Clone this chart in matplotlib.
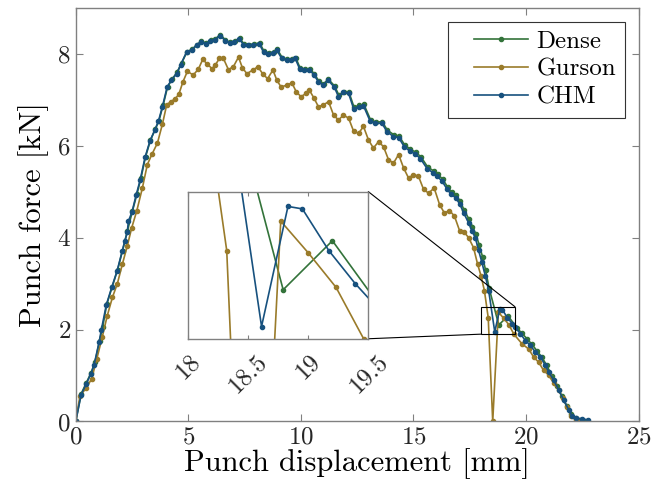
import matplotlib
matplotlib.use('Agg')
import matplotlib.pyplot as plt
from matplotlib.patches import Rectangle
from matplotlib.legend_handler import HandlerLine2D

plt.rcParams['font.family'] = ['cmr10', 'DejaVu Serif']
plt.rcParams['axes.formatter.use_mathtext'] = True

# Punch displacement [mm], punch force [kN]
dense_x = [0, 0.24, 0.46, 0.68, 0.86, 1.06, 1.2, 1.38, 1.62, 1.86, 2.08, 2.3, 2.52, 2.72,
           2.9, 3.1, 3.32, 3.54, 3.7, 3.88, 4.08, 4.28, 4.5, 4.7, 4.95, 5.17, 5.38, 5.57,
           5.8, 5.99, 6.2, 6.43, 6.65, 6.85, 7.06, 7.28, 7.47, 7.69, 7.91, 8.17, 8.36,
           8.58, 8.8, 8.95, 9.17, 9.4, 9.59, 9.77, 9.96, 10.17, 10.39, 10.59, 10.8, 11.02,
           11.22, 11.5, 11.69, 11.91, 12.14, 12.36, 12.58, 12.8, 13.1, 13.32, 13.62, 13.84,
           14.13, 14.36, 14.61, 14.85, 15.1, 15.33, 15.63, 15.9, 16.07, 16.29, 16.52, 16.7,
           16.89, 17.07, 17.25, 17.47, 17.62, 17.77, 17.92, 18.07, 18.2, 18.36, 18.79, 19.2,
           19.6, 19.82, 20.04, 20.26, 20.48, 20.7, 20.92, 21.14, 21.36, 21.58, 21.8, 22.0,
           22.2, 22.45, 22.7]
dense_y = [0, 0.60, 0.83, 1.06, 1.30, 1.76, 2.06, 2.55, 2.93, 3.30, 3.72, 4.15, 4.58, 4.95,
           5.30, 5.76, 6.12, 6.37, 6.55, 6.88, 7.28, 7.45, 7.60, 7.80, 8.05, 8.10, 8.20, 8.27,
           8.24, 8.30, 8.33, 8.42, 8.30, 8.25, 8.28, 8.34, 8.22, 8.20, 8.21, 8.24, 8.06,
           8.02, 8.04, 8.10, 7.92, 7.88, 7.88, 7.92, 7.70, 7.67, 7.68, 7.57, 7.41, 7.35,
           7.45, 7.30, 7.10, 7.18, 7.16, 6.84, 6.88, 6.90, 6.56, 6.52, 6.52, 6.34,
           6.24, 6.21, 6.02, 5.93, 5.86, 5.76, 5.54, 5.45, 5.38, 5.28, 5.10, 4.99,
           4.92, 4.80, 4.60, 4.40, 4.24, 4.08, 3.84, 3.58, 3.30, 2.90, 2.10, 2.30,
           2.03, 1.92, 1.80, 1.68, 1.54, 1.40, 1.22, 1.00, 0.78, 0.56, 0.34, 0.16,
           0.08, 0.04, 0.02]

gurson_x = [0, 0.19, 0.46, 0.71, 0.93, 1.18, 1.4, 1.63, 1.85, 2.07, 2.29, 2.49, 2.71, 2.96,
            3.18, 3.39, 3.63, 3.85, 4.04, 4.22, 4.41, 4.58, 4.76, 4.96, 5.22, 5.45, 5.64,
            5.82, 6.05, 6.19, 6.38, 6.56, 6.78, 7.0, 7.23, 7.4, 7.6, 7.87, 8.09, 8.3, 8.52,
            8.76, 8.93, 9.12, 9.38, 9.6, 9.79, 10.0, 10.24, 10.38, 10.59, 10.78, 11.0, 11.23,
            11.45, 11.67, 11.89, 12.12, 12.34, 12.56, 12.78, 13.0, 13.22, 13.45, 13.67, 13.89,
            14.11, 14.34, 14.56, 14.78, 15.0, 15.22, 15.45, 15.67, 15.92, 16.16, 16.37, 16.6,
            16.82, 17.05, 17.25, 17.45, 17.67, 17.85, 18.0, 18.15, 18.32, 18.52, 18.77, 19.0,
            19.23, 19.46, 19.82, 20.11, 20.34, 20.56, 20.78, 21.0, 21.23, 21.45, 21.64, 21.82,
            22.0, 22.2, 22.42]
gurson_y = [0, 0.56, 0.72, 0.93, 1.35, 1.84, 2.30, 2.70, 3.00, 3.42, 3.82, 4.22, 4.58, 5.08,
            5.59, 5.82, 6.06, 6.47, 6.89, 6.96, 7.02, 7.12, 7.39, 7.62, 7.54, 7.67, 7.88,
            7.79, 7.68, 7.75, 7.90, 7.90, 7.66, 7.72, 7.93, 7.70, 7.57, 7.65, 7.72, 7.57, 7.46,
            7.65, 7.43, 7.28, 7.32, 7.37, 7.18, 7.07, 7.14, 7.21, 7.03, 6.85, 6.89, 6.96,
            6.67, 6.56, 6.67, 6.60, 6.32, 6.27, 6.42, 6.13, 5.95, 6.09, 5.98, 5.70,
            5.62, 5.81, 5.52, 5.30, 5.37, 5.34, 5.05, 4.97, 5.08, 4.72, 4.54, 4.59,
            4.47, 4.15, 4.12, 4.00, 3.78, 3.42, 3.17, 2.85, 2.26, 0.0, 2.38, 2.25,
            2.11, 1.90, 1.69, 1.58, 1.40, 1.29, 1.11, 1.01, 0.83, 0.68, 0.50, 0.32,
            0.12, 0.03, 0.02]

chm_x = [0, 0.24, 0.46, 0.68, 0.81, 1.04, 1.14, 1.36, 1.6, 1.84, 2.06, 2.18, 2.29, 2.34,
         2.5, 2.68, 2.86, 3.08, 3.3, 3.52, 3.67, 3.85, 4.06, 4.25, 4.49, 4.66, 4.93, 5.15,
         5.37, 5.55, 5.79, 5.97, 6.19, 6.41, 6.64, 6.83, 7.04, 7.26, 7.45, 7.67, 7.89, 8.15,
         8.34, 8.56, 8.78, 8.93, 9.15, 9.38, 9.57, 9.75, 9.94, 10.15, 10.37, 10.57, 10.78,
         11.0, 11.2, 11.48, 11.67, 11.89, 12.12, 12.34, 12.56, 12.78, 13.08, 13.3, 13.6,
         13.82, 14.11, 14.34, 14.59, 14.83, 15.08, 15.31, 15.61, 15.88, 16.05, 16.27, 16.5,
         16.68, 16.87, 17.05, 17.23, 17.45, 17.6, 17.75, 17.89, 18.04, 18.19, 18.34, 18.61,
         18.83, 18.95, 19.17, 19.39, 19.53, 19.75, 19.97, 20.19, 20.41, 20.64, 20.86, 21.0,
         21.23, 21.45, 21.67, 21.9, 22.04, 22.24, 22.5, 22.76]
chm_y = [0, 0.58, 0.81, 1.04, 1.22, 1.73, 2.00, 2.54, 2.92, 3.28, 3.70, 3.93, 4.12, 4.36,
         4.56, 4.92, 5.25, 5.75, 6.11, 6.35, 6.53, 6.85, 7.28, 7.43, 7.57, 7.76, 8.05, 8.08,
         8.19, 8.26, 8.22, 8.28, 8.31, 8.40, 8.29, 8.24, 8.26, 8.33, 8.20, 8.19, 8.19, 8.22,
         8.04, 8.00, 8.02, 8.08, 7.90, 7.86, 7.86, 7.90, 7.68, 7.65, 7.66, 7.55, 7.39,
         7.32, 7.43, 7.28, 7.07, 7.16, 7.14, 6.81, 6.85, 6.87, 6.53, 6.49, 6.49,
         6.31, 6.20, 6.18, 5.98, 5.89, 5.82, 5.72, 5.50, 5.41, 5.34, 5.23, 5.05,
         4.94, 4.87, 4.74, 4.54, 4.32, 4.15, 3.99, 3.73, 3.46, 3.17, 2.85, 1.95,
         2.44, 2.43, 2.26, 2.125, 2.05, 1.91, 1.76, 1.66, 1.51, 1.40, 1.22, 1.08,
         0.90, 0.68, 0.47, 0.25, 0.12, 0.07, 0.06, 0.03]

series = [('Dense', dense_x, dense_y, '#33733a'),
          ('Gurson', gurson_x, gurson_y, '#9a7b2a'),
          ('CHM', chm_x, chm_y, '#17517e')]

spine_col = '#808080'


def style_axes(ax, size):
    for s in ax.spines.values():
        s.set_color(spine_col)
        s.set_linewidth(1.0)
    ax.tick_params(direction='in', top=True, right=True, color=spine_col,
                   labelsize=size, labelcolor='#262626', length=5, width=0.8)


fig = plt.figure(figsize=(6.51, 4.97), dpi=100)
ax = fig.add_axes([0.1163, 0.152, 0.8647, 0.832])

for name, x, y, c in series:
    ax.plot(x, y, '-o', color=c, lw=1.2, ms=3.0, label=name)

ax.set_xlim(0, 25)
ax.set_ylim(0, 9)
ax.set_xticks([0, 5, 10, 15, 20, 25])
ax.set_yticks([0, 2, 4, 6, 8])
style_axes(ax, 18)
ax.set_xlabel('Punch displacement [mm]', fontsize=22, labelpad=0)
ax.set_ylabel('Punch force [kN]', fontsize=22, labelpad=6)

leg = ax.legend(loc='upper right', fontsize=18, numpoints=1,
                handler_map={matplotlib.lines.Line2D: HandlerLine2D(xpad=0.68)},
                fancybox=False, edgecolor='#333333', framealpha=1,
                handlelength=2.84, borderpad=0.35, labelspacing=0.22,
                handletextpad=0.36, borderaxespad=0.55)
leg.get_frame().set_linewidth(0.8)

# zoomed inset
axin = ax.inset_axes([5, 1.8, 8, 3.2], transform=ax.transData)
for name, x, y, c in series:
    axin.plot(x, y, '-o', color=c, lw=1.2, ms=3.0)
axin.set_xlim(18, 19.5)
axin.set_ylim(1.9, 2.5)
axin.set_xticks([18, 18.5, 19, 19.5])
axin.set_xticklabels(['18', '18.5', '19', '19.5'], rotation=45)
axin.set_yticks([])
style_axes(axin, 18)
axin.tick_params(length=3, pad=8)

ax.add_patch(Rectangle((18, 1.9), 1.5, 0.6, fill=False, ec='black', lw=0.8, zorder=5))
ax.plot([13, 19.5], [5.0, 2.5], color='black', lw=0.8, zorder=5)
ax.plot([13, 18], [1.8, 1.9], color='black', lw=0.8, zorder=5)

fig.savefig('out.png', dpi=100)
